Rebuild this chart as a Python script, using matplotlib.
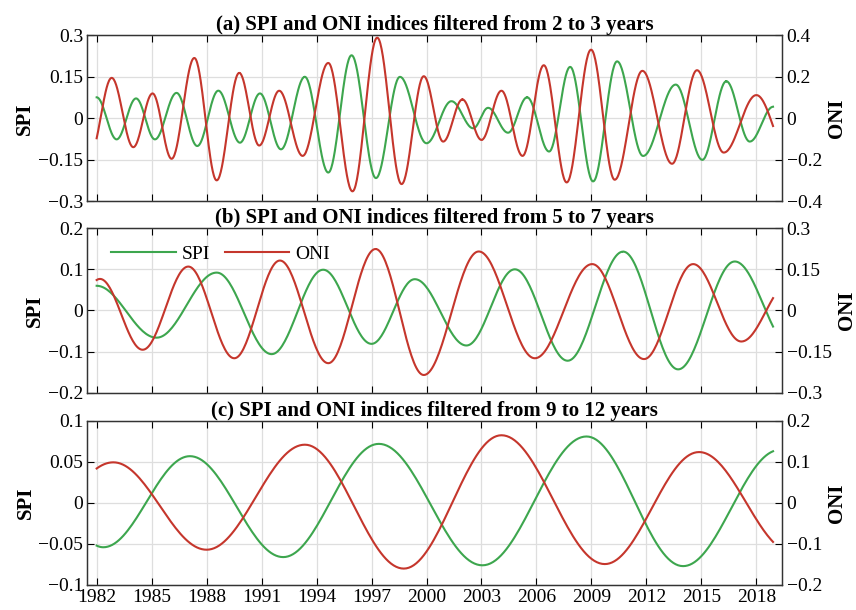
import numpy as np
import matplotlib.pyplot as plt

plt.rcParams['font.family'] = ['Liberation Serif', 'DejaVu Serif']

# turning points (year, value)
a_spi_t = [1982.0, 1983.09, 1984.15, 1985.18, 1986.36, 1987.49, 1988.64, 1989.82, 1990.91,
           1992.06, 1993.36, 1994.64, 1995.91, 1997.24, 1998.55, 2000.0, 2001.36, 2002.55,
           2003.36, 2004.45, 2005.49, 2006.69, 2007.84, 2009.09, 2010.4, 2011.82, 2013.6,
           2015.05, 2016.36, 2017.64, 2018.91]
a_spi_v = [0.076, -0.076, 0.072, -0.076, 0.092, -0.10, 0.10, -0.088, 0.09, -0.112, 0.15,
           -0.196, 0.228, -0.216, 0.15, -0.09, 0.062, -0.036, 0.038, -0.052, 0.076, -0.12,
           0.186, -0.228, 0.206, -0.136, 0.122, -0.15, 0.134, -0.084, 0.042]
a_oni_t = [1982.0, 1982.82, 1984.0, 1985.05, 1986.09, 1987.33, 1988.55, 1989.78, 1990.87,
           1991.96, 1993.24, 1994.64, 1995.96, 1997.31, 1998.64, 1999.85, 2000.91, 2001.96,
           2003.0, 2004.09, 2005.24, 2006.40, 2007.65, 2008.98, 2010.27, 2011.78, 2013.4,
           2014.76, 2016.22, 2018.0, 2018.91]
a_oni_v = [-0.096, 0.195, -0.139, 0.12, -0.195, 0.291, -0.299, 0.219, -0.131, 0.133, -0.181,
           0.267, -0.352, 0.389, -0.317, 0.203, -0.112, 0.091, -0.104, 0.133, -0.181, 0.256,
           -0.309, 0.331, -0.296, 0.229, -0.219, 0.232, -0.165, 0.112, -0.037]

b_spi_t = [1982.0, 1985.27, 1988.55, 1991.55, 1994.36, 1997.0, 1999.36, 2002.18, 2004.82,
           2007.7, 2010.73, 2013.73, 2016.82, 2018.91]
b_spi_v = [0.060, -0.066, 0.092, -0.106, 0.099, -0.081, 0.076, -0.085, 0.10, -0.122, 0.143,
           -0.143, 0.119, -0.039]
b_oni_t = [1982.0, 1982.18, 1984.51, 1987.0, 1989.51, 1992.0, 1994.64, 1997.22, 1999.85,
           2002.85, 2005.91, 2009.04, 2011.87, 2014.55, 2017.18, 2018.91]
b_oni_v = [0.111, 0.115, -0.143, 0.160, -0.174, 0.182, -0.192, 0.224, -0.235, 0.215, -0.174,
           0.169, -0.177, 0.169, -0.113, 0.045]

c_spi_t = [1982.0, 1982.36, 1987.09, 1992.18, 1997.4, 2003.05, 2008.73, 2014.0, 2018.91]
c_spi_v = [-0.052, -0.054, 0.057, -0.066, 0.072, -0.076, 0.081, -0.077, 0.063]
c_oni_t = [1982.0, 1982.91, 1988.0, 1993.36, 1998.76, 2004.09, 2009.73, 2014.87, 2018.91]
c_oni_v = [0.084, 0.099, -0.114, 0.142, -0.160, 0.165, -0.149, 0.124, -0.095]

titles = ["(a) SPI and ONI indices filtered from 2 to 3 years",
          "(b) SPI and ONI indices filtered from 5 to 7 years",
          "(c) SPI and ONI indices filtered from 9 to 12 years"]
spi_ticks = [[-0.3, -0.15, 0, 0.15, 0.3], [-0.2, -0.1, 0, 0.1, 0.2], [-0.1, -0.05, 0, 0.05, 0.1]]
spi_labels = [["−0.3", "−0.15", "0", "0.15", "0.3"], ["−0.2", "−0.1", "0", "0.1", "0.2"],
              ["−0.1", "−0.05", "0", "0.05", "0.1"]]
oni_ticks = [[-0.4, -0.2, 0, 0.2, 0.4], [-0.3, -0.15, 0, 0.15, 0.3], [-0.2, -0.1, 0, 0.1, 0.2]]
oni_labels = [["−0.4", "−0.2", "0", "0.2", "0.4"], ["−0.3", "−0.15", "0", "0.15", "0.3"],
              ["−0.2", "−0.1", "0", "0.1", "0.2"]]
year_ticks = list(range(1982, 2019, 3))

GREEN = "#3da64e"
RED = "#c5362c"


def smooth(t, v, n=40):
    # join the read turning points with half-cosine arcs
    t = np.asarray(t, float)
    v = np.asarray(v, float)
    xs, ys = [], []
    last = len(t) - 2
    for i in range(len(t) - 1):
        t0, t1, v0, v1 = t[i], t[i + 1], v[i], v[i + 1]
        s = np.linspace(0, 1, n)
        if i == 0:
            h = max(t[2] - t[1], t1 - t0)
            p = np.pi * (t1 - t0) / h
            w = (1 - np.cos(p * (1 - s))) / (1 - np.cos(p))
            y = v1 + (v0 - v1) * w
        elif i == last:
            h = max(t[i] - t[i - 1], t1 - t0)
            p = np.pi * (t1 - t0) / h
            w = (1 - np.cos(p * s)) / (1 - np.cos(p))
            y = v0 + (v1 - v0) * w
        else:
            y = v0 + (v1 - v0) * (1 - np.cos(np.pi * s)) / 2
        xs.append(t0 + (t1 - t0) * s)
        ys.append(y)
    return np.concatenate(xs), np.concatenate(ys)


fig = plt.figure(figsize=(8.56, 6.10), dpi=100)
positions = [[0.102, 0.670, 0.812, 0.272],
             [0.102, 0.356, 0.812, 0.270],
             [0.102, 0.041, 0.812, 0.269]]
data = [(a_spi_t, a_spi_v, a_oni_t, a_oni_v),
        (b_spi_t, b_spi_v, b_oni_t, b_oni_v),
        (c_spi_t, c_spi_v, c_oni_t, c_oni_v)]

for k in range(3):
    ax = fig.add_axes(positions[k])
    ax2 = ax.twinx()
    st, sv, ot, ov = data[k]
    x, y = smooth(st, sv)
    l1, = ax.plot(x, y, color=GREEN, lw=1.5, label="SPI")
    x, y = smooth(ot, ov)
    l2, = ax2.plot(x, y, color=RED, lw=1.5, label="ONI")

    ax.set_xlim(1981.49, 2019.42)
    ax.set_ylim(spi_ticks[k][0], spi_ticks[k][-1])
    ax2.set_ylim(oni_ticks[k][0], oni_ticks[k][-1])
    ax.set_yticks(spi_ticks[k])
    ax.set_yticklabels(spi_labels[k])
    ax2.set_yticks(oni_ticks[k])
    ax2.set_yticklabels(oni_labels[k])
    ax.set_xticks(year_ticks)
    if k == 2:
        ax.set_xticklabels([str(yr) for yr in year_ticks])
    else:
        ax.set_xticklabels([])

    ax.grid(True, color="#dedede", lw=0.9)
    ax.tick_params(direction="in", length=5, width=0.8, top=True, labelsize=14, pad=3)
    ax2.tick_params(direction="in", length=5, width=0.8, labelsize=14, pad=3)
    for a in (ax, ax2):
        for sp in a.spines.values():
            sp.set_color("#333333")
            sp.set_linewidth(0.9)

    ax.set_ylabel("SPI", fontsize=15, fontweight="bold", labelpad=2)
    ax2.set_ylabel("ONI", fontsize=15, fontweight="bold", rotation=90, labelpad=4)
    ax.set_title(titles[k], fontsize=15, fontweight="bold", pad=1.5)

    if k == 1:
        ax.legend([l1, l2], ["SPI", "ONI"], loc="upper left", ncol=2, frameon=False,
                  fontsize=14, handlelength=3.3, columnspacing=0.8, handletextpad=0.3,
                  borderaxespad=0.3, bbox_to_anchor=(0.015, 0.98))

fig.savefig("out.png", dpi=100)
